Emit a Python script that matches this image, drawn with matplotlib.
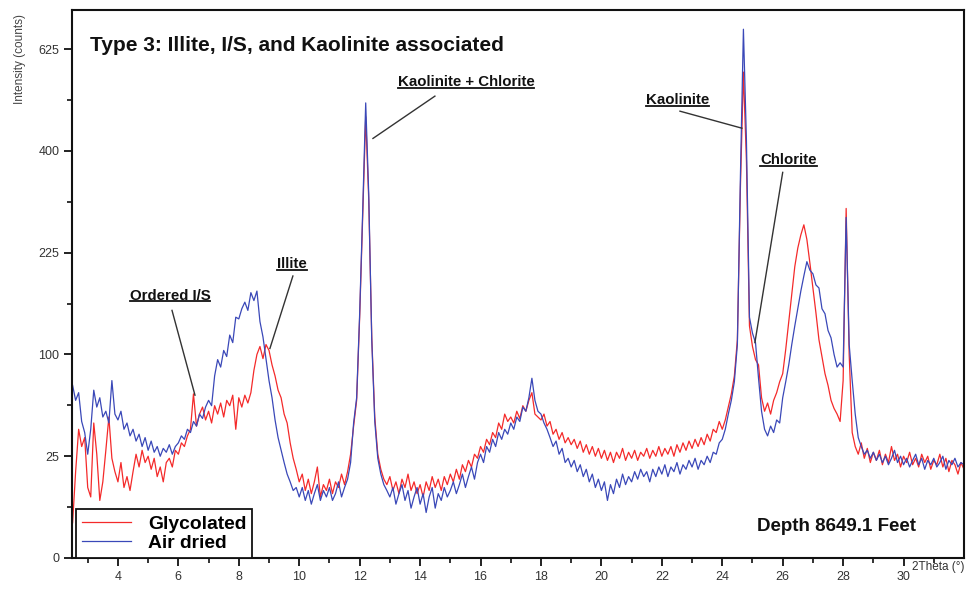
import numpy as np
import matplotlib
matplotlib.use("Agg")
import matplotlib.pyplot as plt
from matplotlib.lines import Line2D

# 2Theta sampling grid (degrees), 0.1 step from 2.5 to 32.0
two_theta = np.round(np.arange(25, 321) / 10.0, 1)

air_dried = [
    72, 60, 66, 45, 38,
    26, 40, 68, 55, 62, 48, 52, 44, 76, 50,
    46, 52, 40, 44, 36, 40, 33, 37, 30, 35,
    28, 33, 27, 30, 25, 29, 27, 31, 26, 30,
    32, 36, 34, 40, 38, 45, 42, 50, 47, 55,
    60, 56, 80, 95, 88, 104, 98, 120, 112, 140,
    138, 150, 158, 148, 170, 160, 172, 135, 118, 96,
    76, 62, 46, 35, 28, 22, 17, 14, 11, 12,
    9, 12, 8, 11, 7, 10, 13, 8, 11, 9,
    12, 8, 10, 14, 9, 12, 15, 22, 44, 62,
    144, 290, 500, 320, 115, 45, 24, 17, 13, 11,
    9, 12, 7, 10, 13, 8, 11, 6, 9, 12,
    7, 10, 5, 9, 12, 6, 10, 8, 12, 9,
    11, 14, 10, 13, 17, 12, 16, 20, 15, 22,
    26, 22, 30, 27, 34, 30, 38, 34, 40, 37,
    44, 40, 48, 45, 55, 52, 62, 78, 60, 52,
    50, 44, 40, 35, 30, 33, 26, 29, 22, 24,
    20, 23, 18, 21, 16, 19, 14, 17, 12, 15,
    11, 14, 8, 13, 10, 15, 12, 17, 13, 16,
    14, 18, 15, 19, 16, 18, 14, 19, 16, 20,
    17, 21, 16, 20, 18, 22, 17, 21, 19, 23,
    20, 24, 19, 23, 21, 25, 22, 27, 26, 32,
    34, 40, 50, 60, 75, 110, 350, 675, 420, 140,
    122, 112, 78, 52, 40, 36, 42, 38, 46, 44,
    62, 75, 90, 110, 130, 150, 172, 192, 212, 200,
    195, 180, 176, 150, 144, 125, 117, 100, 88, 92,
    88, 280, 110, 76, 50, 35, 30, 26, 28, 24,
    27, 23, 26, 22, 25, 21, 24, 28, 22, 25,
    21, 24, 20, 23, 26, 21, 24, 19, 23, 21,
    24, 20, 22, 25, 19, 23, 21, 24, 20, 22, 21,
]

glycolated = [
    3, 18, 40, 30, 35,
    12, 9, 44, 26, 8, 14, 28, 48, 24, 18,
    14, 22, 12, 16, 11, 18, 26, 20, 28, 22,
    25, 19, 24, 16, 20, 14, 22, 24, 20, 28,
    26, 32, 30, 36, 40, 65, 42, 50, 55, 46,
    52, 44, 56, 50, 58, 48, 60, 56, 64, 40,
    62, 55, 64, 58, 66, 85, 100, 108, 96, 110,
    104, 90, 80, 68, 62, 50, 44, 32, 24, 19,
    14, 17, 11, 15, 10, 14, 20, 9, 13, 11,
    15, 10, 14, 12, 17, 13, 18, 26, 42, 60,
    140, 280, 470, 310, 118, 48, 26, 19, 15, 13,
    16, 11, 14, 10, 15, 12, 17, 11, 14, 10,
    13, 9, 14, 11, 16, 12, 15, 11, 16, 13,
    17, 14, 19, 15, 21, 18, 23, 20, 26, 24,
    30, 27, 34, 31, 38, 35, 44, 40, 50, 45,
    48, 44, 52, 47, 56, 52, 60, 66, 50, 48,
    46, 50, 42, 45, 37, 40, 34, 38, 32, 35,
    31, 34, 29, 33, 27, 31, 26, 30, 25, 29,
    24, 28, 23, 27, 22, 27, 24, 29, 23, 27,
    24, 28, 23, 27, 25, 29, 24, 28, 25, 30,
    25, 29, 26, 30, 25, 31, 27, 32, 28, 33,
    29, 34, 30, 35, 31, 37, 33, 40, 38, 45,
    40, 46, 55, 65, 80, 115, 330, 570, 380, 130,
    108, 95, 90, 62, 52, 58, 50, 60, 66, 75,
    82, 105, 135, 170, 205, 232, 252, 268, 245, 210,
    176, 145, 115, 98, 82, 72, 60, 54, 50, 45,
    76, 295, 100, 38, 30, 26, 32, 24, 29, 22,
    27, 23, 28, 21, 26, 22, 30, 23, 26, 20,
    25, 22, 27, 21, 24, 20, 26, 22, 25, 19,
    23, 21, 26, 20, 24, 18, 23, 21, 17, 22, 19,
]

series_labels = ["Glycolated", "Air dried"]
y_ticks = [0, 25, 100, 225, 400, 625]
y_minor = [6.25, 56.25, 156.25, 306.25, 506.25]
x_ticks = [4, 6, 8, 10, 12, 14, 16, 18, 20, 22, 24, 26, 28, 30]

peak_labels = ["Ordered I/S", "Illite", "Kaolinite + Chlorite", "Kaolinite", "Chlorite"]
peak_text_xy = [(5.72, 166), (9.76, 208), (15.52, 547), (22.53, 506), (26.2, 382)]
peak_line_start = [(5.79, 148), (9.79, 192), (14.49, 515), (22.6, 482), (26.0, 359)]
peak_line_end = [(6.55, 64), (9.03, 106), (12.44, 425), (24.65, 446), (25.08, 112)]

FONT = "Liberation Sans"
plt.rcParams["font.family"] = [FONT, "DejaVu Sans"]

fig = plt.figure(figsize=(9.71, 5.97), dpi=100)
ax = fig.add_axes([72 / 971, 39 / 597, 892 / 971, 548 / 597])

ax.set_yscale("function", functions=(lambda v: np.sqrt(np.clip(v, 0, None)), lambda v: np.square(v)))

red = "#f42a2a"
blue = "#3a48b8"
ax.plot(two_theta, glycolated, color=red, lw=0.9, label=series_labels[0])
ax.plot(two_theta, air_dried, color=blue, lw=0.9, label=series_labels[1])

ax.set_xlim(2.48, 32.0)
ax.set_ylim(0, 725)
ax.set_yticks(y_ticks)
ax.set_yticks(y_minor, minor=True)
ax.set_yticklabels([str(t) for t in y_ticks])
ax.set_xticks(x_ticks)
ax.set_xticks(list(range(3, 32, 2)), minor=True)

for s in ax.spines.values():
    s.set_linewidth(1.5)
    s.set_color("#111111")
ax.tick_params(which="major", direction="out", length=6, width=1.3, colors="#111111",
               labelsize=9, labelcolor="#333333", pad=3)
ax.tick_params(which="minor", direction="out", length=3.5, width=1.2, colors="#111111")

ax.set_ylabel("Intensity (counts)", fontsize=8.5, color="#444444")
ax.yaxis.set_label_coords(-0.052, 0.91)
fig.text(964 / 971, (597 - 567) / 597, "2Theta (\u00b0)", fontsize=8.5, color="#333333",
         ha="right", va="center")

ax.text(0.020, 0.936, "Type 3: Illite, I/S, and Kaolinite associated", transform=ax.transAxes,
        fontsize=15, fontweight="bold", ha="left", va="center", color="#111111")
ax.text(0.768, 0.058, "Depth 8649.1 Feet", transform=ax.transAxes,
        fontsize=13.5, fontweight="bold", ha="left", va="center", color="#111111")

ann_texts = []
for lab, txy, ls, le in zip(peak_labels, peak_text_xy, peak_line_start, peak_line_end):
    t = ax.text(txy[0], txy[1], lab, fontsize=10.8, fontweight="bold", ha="center", va="center",
                color="#111111")
    ann_texts.append(t)
    ax.plot([ls[0], le[0]], [ls[1], le[1]], color="#333333", lw=1.0)

leg = ax.legend(loc="lower left", bbox_to_anchor=(0.005, 0.0), borderaxespad=0,
                prop={"family": FONT, "weight": "bold", "size": 13.9},
                handlelength=2.5, handletextpad=0.9, fancybox=False, frameon=True,
                borderpad=0.3, labelspacing=0.1)
leg.get_frame().set_edgecolor("#111111")
leg.get_frame().set_linewidth(1.3)
leg.get_frame().set_alpha(1)

fig.canvas.draw()
renderer = fig.canvas.get_renderer()
W, H = fig.bbox.width, fig.bbox.height
for t in ann_texts:
    bb = t.get_window_extent(renderer)
    yy = (bb.y0 + 1.5) / H
    fig.add_artist(Line2D([bb.x0 / W, bb.x1 / W], [yy, yy], color="#111111", lw=1.3,
                          transform=fig.transFigure))

fig.savefig("out.png", dpi=100)
